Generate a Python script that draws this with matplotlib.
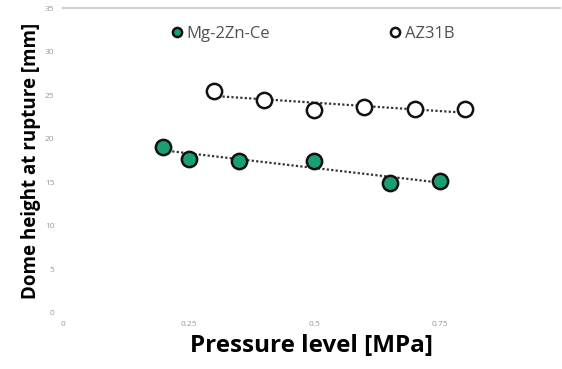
import numpy as np
import matplotlib.pyplot as plt

plt.rcParams['font.family'] = ['Open Sans', 'DejaVu Sans']

# values
mg_x = [0.2, 0.25, 0.35, 0.5, 0.65, 0.75]
mg_y = [19.1, 17.7, 17.5, 17.5, 14.9, 15.2]
az_x = [0.3, 0.4, 0.5, 0.6, 0.7, 0.8]
az_y = [25.5, 24.5, 23.3, 23.6, 23.4, 23.4]

green = '#1a9e74'

fig = plt.figure(figsize=(5.62, 3.69), dpi=100)
ax = fig.add_axes([0.112, 0.152, 0.885, 0.826])

# dotted linear trend lines
for xs, ys in [(mg_x, mg_y), (az_x, az_y)]:
    k, b = np.polyfit(xs, ys, 1)
    xx = np.array([xs[0], xs[-1]])
    ax.plot(xx, k * xx + b, ls=(0, (1, 1)), color='#333333', lw=1.6, zorder=2)

ax.plot(mg_x, mg_y, 'o', ms=11, mfc=green, mec='#111111', mew=1.8, ls='none',
        label='Mg-2Zn-Ce', zorder=3)
ax.plot(az_x, az_y, 'o', ms=11, mfc='white', mec='#111111', mew=1.8, ls='none',
        label='AZ31B', zorder=3)

ax.set_xlim(0, 0.99)
ax.set_ylim(0, 35)
ax.set_xticks([0, 0.25, 0.5, 0.75])
ax.set_xticklabels(['0', '0.25', '0.5', '0.75'])
ax.set_yticks(range(0, 36, 5))
ax.tick_params(length=0, labelsize=6, colors='#999999', pad=6)
for s in ['left', 'right', 'bottom']:
    ax.spines[s].set_visible(False)
ax.spines['top'].set_color('#d0d0d0')
ax.spines['top'].set_linewidth(1.5)

ax.set_ylabel('Dome height at rupture [mm]', fontsize=13.5, fontweight='bold', labelpad=3)
ax.set_xlabel('Pressure level [MPa]', fontsize=17.5, fontweight='bold', labelpad=4)

leg = ax.legend(loc='upper center', bbox_to_anchor=(0.5, 0.99), ncol=2, frameon=False,
                fontsize=12, handletextpad=0.1, columnspacing=7, markerscale=0.6,
                handlelength=1)
for t in leg.get_texts():
    t.set_color('#505050')

fig.savefig('out.png', dpi=100)
